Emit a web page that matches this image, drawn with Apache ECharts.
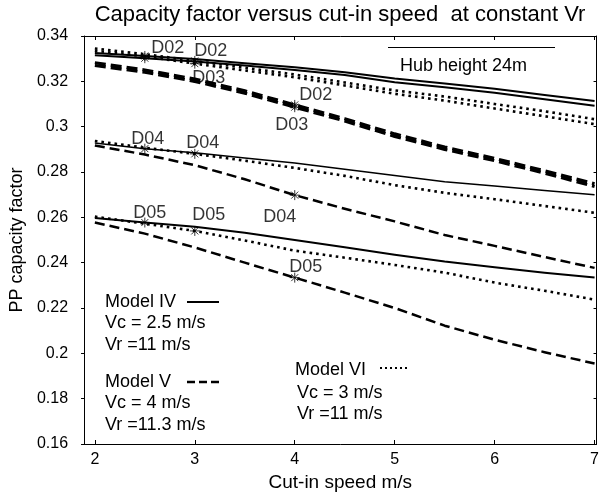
<!DOCTYPE html>
<html>
<head>
<meta charset="utf-8">
<script src="https://cdn.jsdelivr.net/npm/echarts@6/dist/echarts.min.js"></script>
<style>
  html, body { margin: 0; padding: 0; background: #fff; }
  #chart { width: 602px; height: 497px; }
</style>
</head>
<body>
<div id="chart"></div>
<script>
// Cut-in speed (m/s) sample points shared by every curve
const cutInSpeed = [2, 2.5, 3, 3.5, 4, 4.5, 5, 5.5, 6, 6.5, 7];
const xTickValues = [2, 3, 4, 5, 6, 7];

// Model IV (solid), Vc = 2.5 m/s, Vr = 11 m/s
const modelIV_D02 = [0.3325, 0.3312, 0.3298, 0.3280, 0.3262, 0.3240, 0.3212, 0.3190, 0.3167, 0.3140, 0.3113];
const modelIV_D03 = [0.3315, 0.3302, 0.3288, 0.3270, 0.3250, 0.3228, 0.3196, 0.3174, 0.3150, 0.3121, 0.3092];
const modelIV_D04 = [0.2928, 0.2903, 0.2885, 0.2862, 0.2840, 0.2812, 0.2785, 0.2757, 0.2738, 0.2718, 0.2700];
const modelIV_D05 = [0.2597, 0.2577, 0.2558, 0.2532, 0.2500, 0.2468, 0.2435, 0.2405, 0.2380, 0.2356, 0.2335];

// Model V (dashed), Vc = 4 m/s, Vr = 11.3 m/s
const modelV_D02 = [0.3282, 0.3250, 0.3210, 0.3158, 0.3096, 0.3035, 0.2968, 0.2910, 0.2860, 0.2805, 0.2748];
const modelV_D03 = [0.3270, 0.3240, 0.3200, 0.3148, 0.3086, 0.3025, 0.2957, 0.2900, 0.2850, 0.2795, 0.2736];
const modelV_D04 = [0.2917, 0.2877, 0.2830, 0.2768, 0.2698, 0.2638, 0.2582, 0.2522, 0.2474, 0.2425, 0.2377];
const modelV_D05 = [0.2577, 0.2528, 0.2467, 0.2400, 0.2334, 0.2268, 0.2200, 0.2122, 0.2060, 0.2005, 0.1955];

// Model VI (dotted), Vc = 3 m/s, Vr = 11 m/s
const modelVI_D02 = [0.3345, 0.3320, 0.3290, 0.3260, 0.3230, 0.3195, 0.3160, 0.3133, 0.3100, 0.3068, 0.3033];
const modelVI_D03 = [0.3335, 0.3310, 0.3278, 0.3248, 0.3218, 0.3182, 0.3145, 0.3115, 0.3080, 0.3046, 0.3011];
const modelVI_D04 = [0.2937, 0.2907, 0.2880, 0.2850, 0.2818, 0.2783, 0.2742, 0.2708, 0.2680, 0.2650, 0.2620];
const modelVI_D05 = [0.2603, 0.2572, 0.2540, 0.2498, 0.2453, 0.2422, 0.2390, 0.2356, 0.2312, 0.2276, 0.2237];

// Rated-point markers: each model is marked at its own cut-in speed
const markerCurves = ['IV_D02', 'IV_D03', 'VI_D02', 'VI_D03', 'V_D02', 'V_D03',
                      'IV_D04', 'VI_D04', 'V_D04', 'IV_D05', 'VI_D05', 'V_D05'];
const markerSpeeds = [2.5, 2.5, 3, 3, 4, 4, 2.5, 3, 4, 2.5, 3, 4];
const markerTexts  = ['D02', '', 'D02', 'D03', 'D02', 'D03', 'D04', 'D04', 'D04', 'D05', 'D05', 'D05'];

const FONT = '"Liberation Sans", Arial, Helvetica, sans-serif';
const NOTE_FONT = '18px ' + FONT;

const curves = {
  IV_D02: modelIV_D02, IV_D03: modelIV_D03, IV_D04: modelIV_D04, IV_D05: modelIV_D05,
  V_D02: modelV_D02, V_D03: modelV_D03, V_D04: modelV_D04, V_D05: modelV_D05,
  VI_D02: modelVI_D02, VI_D03: modelVI_D03, VI_D04: modelVI_D04, VI_D05: modelVI_D05
};

const styleFor = {
  IV_D02: { width: 2, type: 'solid' },
  IV_D03: { width: 2, type: 'solid' },
  IV_D04: { width: 1.5, type: 'solid' },
  IV_D05: { width: 2, type: 'solid' },
  V_D02: { width: 3.2, type: [11, 5] },
  V_D03: { width: 3.2, type: [11, 5] },
  V_D04: { width: 2.5, type: [10, 5] },
  V_D05: { width: 2.5, type: [10, 5] },
  VI_D02: { width: 2.6, type: [2.6, 4] },
  VI_D03: { width: 2.6, type: [2.6, 4] },
  VI_D04: { width: 2.6, type: [2.6, 4] },
  VI_D05: { width: 2.6, type: [2.6, 4] }
};

// where each marker's label sits relative to its asterisk
const labelOffsets = [[-1, -8], [0, 0], [-8, -10], [-10, 14], [-3, -10], [-27, 18],
                      [-21, -10], [-16, -11], [-39, 22], [-19, -10], [-10, -16], [-13, -11]];

const lineSeries = Object.keys(curves).map(function (key) {
  const st = styleFor[key];
  return {
    type: 'line',
    name: key,
    data: cutInSpeed.map(function (x, i) { return [x, curves[key][i]]; }),
    symbol: 'none',
    silent: true,
    animation: false,
    lineStyle: { color: '#000', width: st.width, type: st.type, cap: 'butt', join: 'round' },
    z: 2
  };
});

const asterisk = 'path://M5,0L5,10M0,5L10,5M1.5,1.5L8.5,8.5M1.5,8.5L8.5,1.5';

const markerData = markerCurves.map(function (key, i) {
  const idx = cutInSpeed.indexOf(markerSpeeds[i]);
  const txt = markerTexts[i];
  return {
    value: [markerSpeeds[i], curves[key][idx]],
    label: {
      show: txt !== '',
      formatter: txt,
      position: 'right',
      distance: 0,
      offset: labelOffsets[i]
    }
  };
});

const chart = echarts.init(document.getElementById('chart'), null, { renderer: 'canvas' });

const axisTextStyle = { color: '#000', fontFamily: FONT, fontSize: 16 };

function noteText(x, y, text) {
  return { type: 'text', x: x, y: y, style: { text: text, font: NOTE_FONT, fill: '#000', textVerticalAlign: 'middle', verticalAlign: 'middle' } };
}

chart.setOption({
  animation: false,
  backgroundColor: '#fff',
  grid: { left: 78, right: 3, top: 36, bottom: 49, containLabel: false },
  xAxis: [{
    type: 'value',
    min: 1.8917,
    max: 7.0197,
    position: 'bottom',
    name: 'Cut-in speed m/s',
    nameLocation: 'middle',
    nameGap: 29,
    nameTextStyle: { color: '#000', fontFamily: FONT, fontSize: 19 },
    axisLine: { show: true, onZero: false, lineStyle: { color: '#000', width: 1 } },
    axisTick: { show: true, inside: true, length: 4, customValues: xTickValues, lineStyle: { color: '#000' } },
    axisLabel: Object.assign({ customValues: xTickValues, margin: 8 }, axisTextStyle),
    splitLine: { show: false }
  }, {
    type: 'value',
    min: 1.8917,
    max: 7.0197,
    position: 'top',
    axisLine: { show: true, onZero: false, lineStyle: { color: '#000', width: 1 } },
    axisTick: { show: true, inside: true, length: 4, customValues: xTickValues, lineStyle: { color: '#000' } },
    axisLabel: { show: false },
    splitLine: { show: false }
  }],
  yAxis: [{
    type: 'value',
    min: 0.16,
    max: 0.34,
    interval: 0.02,
    position: 'left',
    name: 'PP capacity factor',
    nameLocation: 'middle',
    nameGap: 54,
    nameRotate: 90,
    nameTextStyle: { color: '#000', fontFamily: FONT, fontSize: 18 },
    axisLine: { show: true, onZero: false, lineStyle: { color: '#000', width: 1 } },
    axisTick: { show: true, inside: false, length: 3, lineStyle: { color: '#000' } },
    axisLabel: Object.assign({
      margin: 16,
      formatter: function (v) { return String(parseFloat(v.toFixed(2))); }
    }, axisTextStyle),
    splitLine: { show: false }
  }, {
    type: 'value',
    min: 0.16,
    max: 0.34,
    interval: 0.02,
    position: 'right',
    axisLine: { show: true, onZero: false, lineStyle: { color: '#000', width: 1 } },
    axisTick: { show: true, inside: true, length: 3, lineStyle: { color: '#000' } },
    axisLabel: { show: false },
    splitLine: { show: false }
  }],
  series: lineSeries.concat([{
    type: 'scatter',
    name: 'markers',
    symbol: asterisk,
    symbolSize: 10,
    silent: true,
    itemStyle: { color: 'none', borderColor: '#000', borderWidth: 1 },
    label: { color: '#000', fontFamily: FONT, fontSize: 18 },
    data: markerData,
    z: 3
  }]),
  graphic: [
    // title
    { type: 'text', x: 340, y: 15, style: { text: 'Capacity factor versus cut-in speed  at constant Vr', font: '22px ' + FONT, fill: '#000', textAlign: 'center', align: 'center', textVerticalAlign: 'middle', verticalAlign: 'middle' } },
    // hub height note
    { type: 'line', shape: { x1: 388, y1: 47.5, x2: 555, y2: 47.5 }, style: { stroke: '#000', lineWidth: 1 } },
    noteText(400, 66, 'Hub height 24m'),
    // model key: Model IV
    noteText(105, 302, 'Model IV'),
    { type: 'line', shape: { x1: 187, y1: 302, x2: 219, y2: 302 }, style: { stroke: '#000', lineWidth: 2 } },
    noteText(105, 323, 'Vc = 2.5 m/s'),
    noteText(105, 345, 'Vr =11 m/s'),
    // Model V
    noteText(105, 382, 'Model V'),
    { type: 'line', shape: { x1: 187, y1: 382, x2: 219, y2: 382 }, style: { stroke: '#000', lineWidth: 2.5, lineDash: [8, 4] } },
    noteText(105, 403, 'Vc = 4 m/s'),
    noteText(105, 425, 'Vr =11.3 m/s'),
    // Model VI
    noteText(295, 370, 'Model VI'),
    { type: 'line', shape: { x1: 380, y1: 368, x2: 410, y2: 368 }, style: { stroke: '#000', lineWidth: 2, lineDash: [2, 3] } },
    noteText(297, 393, 'Vc = 3 m/s'),
    noteText(297, 414, 'Vr =11 m/s')
  ]
});
</script>
</body>
</html>
